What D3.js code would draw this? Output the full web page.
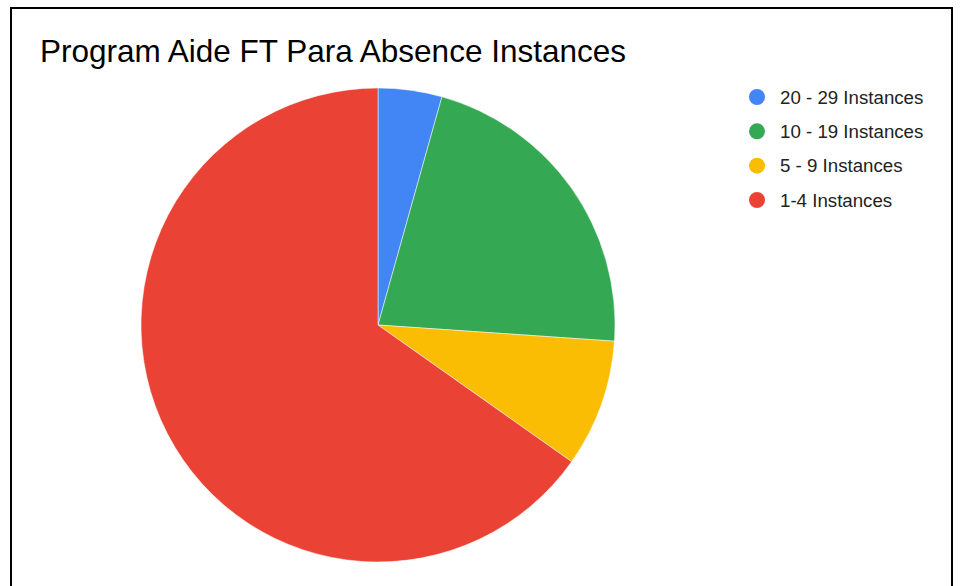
<!DOCTYPE html>
<html><head><meta charset="utf-8">
<script src="https://cdn.jsdelivr.net/npm/d3@7"></script>
<style>body{margin:0;background:#fff;}svg{display:block;font-family:"Liberation Sans",Arial,sans-serif;}</style>
</head><body>
<svg id="c" width="961" height="586"></svg>
<script>
const categories = ["20 - 29 Instances", "10 - 19 Instances", "5 - 9 Instances", "1-4 Instances"];
const values = [1, 5, 2, 15];
const colors = ["#4285f4", "#34a853", "#fbbc04", "#ea4335"];
const title = "Program Aide FT Para Absence Instances";

const svg = d3.select("#c");
svg.append("rect").attr("x", 11).attr("y", 8).attr("width", 941).attr("height", 600)
  .attr("fill", "#fff").attr("stroke", "#000").attr("stroke-width", 2);

svg.append("text").attr("x", 40).attr("y", 62).attr("font-size", 31.5).attr("fill", "#000").text(title);

const cx = 378, cy = 325, r = 237;
const data = categories.map((c, i) => ({c, v: values[i], col: colors[i]}));
const pie = d3.pie().value(d => d.v).sort(null);
const arc = d3.arc().innerRadius(0).outerRadius(r);
svg.append("g").attr("transform", `translate(${cx},${cy})`)
  .selectAll("path").data(pie(data)).join("path")
  .attr("d", arc).attr("fill", d => d.data.col).attr("stroke", "#fff").attr("stroke-width", 0.5);

const ly = d3.scalePoint().domain(categories).range([97, 200]);
const lg = svg.append("g");
data.forEach(d => {
  lg.append("circle").attr("cx", 757).attr("cy", ly(d.c)).attr("r", 8).attr("fill", d.col);
  lg.append("text").attr("x", 780).attr("y", ly(d.c)).attr("dy", "0.36em").attr("font-size", 18.7).attr("fill", "#222").text(d.c);
});
</script>
</body></html>
